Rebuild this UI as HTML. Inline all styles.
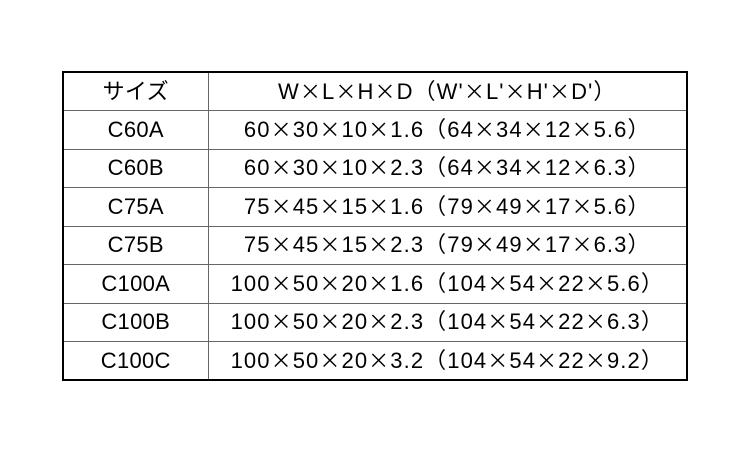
<!DOCTYPE html>
<html><head><meta charset="utf-8"><style>
body{margin:0;background:#fff;width:750px;height:450px;overflow:hidden}
table{position:absolute;left:62px;top:71px;width:626px;height:310px;border-collapse:collapse;border:2px solid #000;font-family:"Liberation Sans","Noto Sans CJK JP",sans-serif;font-size:22px;color:#000;letter-spacing:1.1px;table-layout:fixed}
tr{height:38.3px}
td{border:1px solid #666;text-align:center;padding:0;line-height:22px;vertical-align:middle;overflow:hidden;white-space:nowrap}
td:first-child{width:144px;letter-spacing:0.3px}
.x{font-family:"Noto Sans CJK JP",sans-serif;font-size:21px;line-height:1}
</style></head><body>
<table>
<colgroup><col style="width:145px"><col></colgroup>
<tr><td>サイズ</td><td>W<span class="x">×</span>L<span class="x">×</span>H<span class="x">×</span>D（W'<span class="x">×</span>L'<span class="x">×</span>H'<span class="x">×</span>D'）</td></tr>
<tr><td>C60A</td><td>60<span class="x">×</span>30<span class="x">×</span>10<span class="x">×</span>1.6（64<span class="x">×</span>34<span class="x">×</span>12<span class="x">×</span>5.6）</td></tr>
<tr><td>C60B</td><td>60<span class="x">×</span>30<span class="x">×</span>10<span class="x">×</span>2.3（64<span class="x">×</span>34<span class="x">×</span>12<span class="x">×</span>6.3）</td></tr>
<tr><td>C75A</td><td>75<span class="x">×</span>45<span class="x">×</span>15<span class="x">×</span>1.6（79<span class="x">×</span>49<span class="x">×</span>17<span class="x">×</span>5.6）</td></tr>
<tr><td>C75B</td><td>75<span class="x">×</span>45<span class="x">×</span>15<span class="x">×</span>2.3（79<span class="x">×</span>49<span class="x">×</span>17<span class="x">×</span>6.3）</td></tr>
<tr><td>C100A</td><td>100<span class="x">×</span>50<span class="x">×</span>20<span class="x">×</span>1.6（104<span class="x">×</span>54<span class="x">×</span>22<span class="x">×</span>5.6）</td></tr>
<tr><td>C100B</td><td>100<span class="x">×</span>50<span class="x">×</span>20<span class="x">×</span>2.3（104<span class="x">×</span>54<span class="x">×</span>22<span class="x">×</span>6.3）</td></tr>
<tr><td>C100C</td><td>100<span class="x">×</span>50<span class="x">×</span>20<span class="x">×</span>3.2（104<span class="x">×</span>54<span class="x">×</span>22<span class="x">×</span>9.2）</td></tr>
</table>
</body></html>
